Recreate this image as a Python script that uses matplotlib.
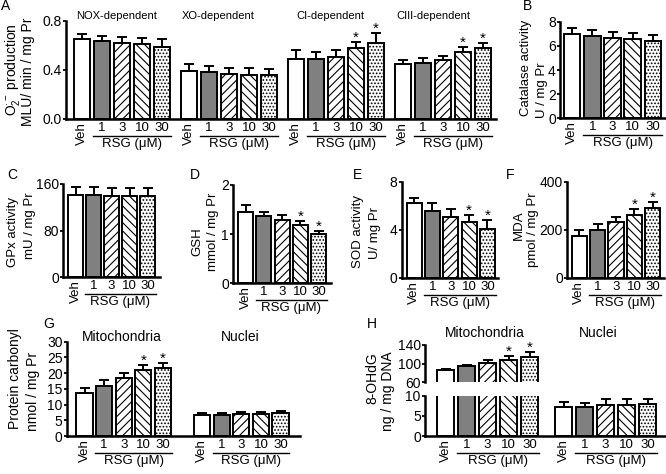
import matplotlib
matplotlib.use('Agg')
import matplotlib.pyplot as plt
import numpy as np
from matplotlib.transforms import offset_copy

plt.rcParams['font.family'] = ['Liberation Sans', 'DejaVu Sans']
plt.rcParams['mathtext.fontset'] = 'custom'
plt.rcParams['mathtext.rm'] = 'Liberation Sans'
plt.rcParams['mathtext.it'] = 'Liberation Sans:italic'
plt.rcParams['hatch.linewidth'] = 0.8

# ---- data ----
dose_labels = ['Veh', '1', '3', '10', '30']

# A: O2- production (MLU / min / mg Pr)
a_titles = ['NOX-dependent', 'XO-dependent', 'CI-dependent', 'CIII-dependent']
a_nox = [0.65, 0.64, 0.62, 0.61, 0.59]
a_nox_err = [0.045, 0.04, 0.05, 0.05, 0.06]
a_xo = [0.39, 0.38, 0.37, 0.36, 0.36]
a_xo_err = [0.06, 0.05, 0.05, 0.06, 0.05]
a_ci = [0.49, 0.49, 0.51, 0.58, 0.62]
a_ci_err = [0.07, 0.06, 0.05, 0.045, 0.08]
a_ciii = [0.45, 0.46, 0.48, 0.55, 0.58]
a_ciii_err = [0.03, 0.035, 0.035, 0.04, 0.04]
a_stars = [[0, 0, 0, 0, 0], [0, 0, 0, 0, 0], [0, 0, 0, 1, 1], [0, 0, 0, 1, 1]]

# B: catalase
b_vals = [6.95, 6.8, 6.67, 6.54, 6.42]
b_err = [0.55, 0.55, 0.5, 0.5, 0.48]
# C: GPx
c_vals = [141, 141, 140, 139, 139]
c_err = [13, 13, 13, 14, 14]
# D: GSH
d_vals = [1.46, 1.37, 1.29, 1.19, 1.0]
d_err = [0.13, 0.09, 0.09, 0.08, 0.06]
d_stars = [0, 0, 0, 1, 1]
# E: SOD
e_vals = [6.2, 5.56, 5.08, 4.6, 4.06]
e_err = [0.45, 0.7, 0.65, 0.65, 0.75]
e_stars = [0, 0, 0, 1, 1]
# F: MDA
f_vals = [174, 199, 233, 261, 292]
f_err = [25, 25, 21, 25, 25]
f_stars = [0, 0, 0, 1, 1]
# G: protein carbonyl
g_mito = [13.8, 15.9, 18.5, 21.0, 21.5]
g_mito_err = [1.4, 1.9, 1.6, 1.6, 1.8]
g_nuc = [6.8, 6.8, 7.1, 7.1, 7.4]
g_nuc_err = [0.6, 0.5, 0.4, 0.4, 0.5]
g_stars = [0, 0, 0, 1, 1]
# H: 8-OHdG
h_mito = [86, 94, 100.7, 107, 115]
h_mito_err = [3, 4, 8, 9, 11]
h_nuc = [7.3, 7.3, 7.7, 7.7, 7.9]
h_nuc_err = [1.1, 1.0, 1.6, 1.6, 1.3]
h_stars = [0, 0, 0, 1, 1]

# ---- styling ----
FILLS = ['white', '#808080', 'white', 'white', 'white']
HATCHES = [None, None, '////', '\\\\\\\\', '.....']
W, H = 666, 474
fig = plt.figure(figsize=(W / 100, H / 100), dpi=100)


def px_axes(x0, x1, ytop, ybot):
    ax = fig.add_axes([x0 / W, 1 - ybot / H, (x1 - x0) / W, (ybot - ytop) / H])
    for s in ['top', 'right']:
        ax.spines[s].set_visible(False)
    for s in ['left', 'bottom']:
        ax.spines[s].set_linewidth(1.8)
    ax.tick_params(axis='y', length=2.5, width=1.3, labelsize=10, pad=0.5)
    ax.set_xticks([])
    return ax


def set_xlim(ax, pitch, offset, width_px):
    left = -0.5 - offset / pitch
    ax.set_xlim(left, left + width_px / pitch)


def draw_bars(ax, xs, vals, errs):
    for x, v, fc, h in zip(xs, vals, FILLS, HATCHES):
        ax.bar(x, v, width=0.82, color=fc, edgecolor='k', hatch=h, linewidth=1.4, zorder=2)
    ax.errorbar(xs, vals, yerr=[np.zeros(len(vals)), errs], fmt='none', ecolor='k',
                elinewidth=1.4, capsize=3.5, capthick=1.4, zorder=3)


def draw_stars(ax, xs, vals, errs, stars):
    for x, v, e, s in zip(xs, vals, errs, stars):
        if s:
            ax.annotate('*', xy=(x, v + e), xytext=(0, -2), textcoords='offset points',
                        ha='center', va='bottom', fontsize=11)


def draw_xlabels(ax, xs):
    base = ax.get_xaxis_transform()
    t_num = offset_copy(base, fig=fig, y=-3, units='dots')
    for x, lab in zip(xs, dose_labels):
        if lab == 'Veh':
            ax.text(x, 0, lab, transform=t_num, rotation=90, ha='center', va='top', fontsize=9.5)
        else:
            ax.text(x, 0, lab, transform=t_num, ha='center', va='top', fontsize=9.5)
    t_line = offset_copy(base, fig=fig, y=-17, units='dots')
    ax.plot([xs[1] - 0.45, xs[4] + 0.45], [0, 0], transform=t_line, color='k', lw=1.0, clip_on=False)
    t_rsg = offset_copy(base, fig=fig, y=-19, units='dots')
    ax.text((xs[1] + xs[4]) / 2, 0, 'RSG (\u03bcM)', transform=t_rsg, ha='center', va='top', fontsize=9.5)


def ftext(x, y, s, **kw):
    fig.text(x / W, 1 - y / H, s, ha='center', va='center', **kw)


idx = np.arange(5)

# ---- A ----
ax = px_axes(66, 496, 21, 119)
set_xlim(ax, 20, 6, 430)
a_vals = [a_nox, a_xo, a_ci, a_ciii]
a_errs = [a_nox_err, a_xo_err, a_ci_err, a_ciii_err]
for g in range(4):
    xs = g * 5.35 + idx
    draw_bars(ax, xs, a_vals[g], a_errs[g])
    draw_stars(ax, xs, a_vals[g], a_errs[g], a_stars[g])
    draw_xlabels(ax, xs)
ax.set_ylim(0, 0.8)
ax.set_yticks([0, 0.4, 0.8])
ax.set_yticklabels(['0.0', '0.4', '0.8'])
for x, t in zip([117, 218, 330, 433], a_titles):
    ftext(x, 16, t, fontsize=8)
ftext(13, 70, r'O$_2^{\cdot-}$ production', rotation=90, fontsize=10)
ftext(28, 72, 'MLU/ min / mg Pr', rotation=90, fontsize=10)
ftext(6, 6, 'A', fontsize=10)


def single_panel(box, pitch, offset, vals, errs, stars, ylim, yticks, lab1, lab2, l1xy, l2xy, letter, lxy):
    ax = px_axes(*box)
    set_xlim(ax, pitch, offset, box[1] - box[0])
    draw_bars(ax, idx, vals, errs)
    if stars is not None:
        draw_stars(ax, idx, vals, errs, stars)
    draw_xlabels(ax, idx)
    ax.set_ylim(*ylim)
    ax.set_yticks(yticks)
    ftext(*l1xy, lab1, rotation=90, fontsize=9.5)
    ftext(*l2xy, lab2, rotation=90, fontsize=9.5)
    ftext(*lxy, letter, fontsize=10)
    return ax


single_panel((560, 665, 21.7, 118.3), 20.2, 2, b_vals, b_err, None, (0, 8), [0, 2, 4, 6, 8],
             'Catalase activity', 'U / mg Pr', (526, 68), (542, 90), 'B', (527, 6))
single_panel((63, 160, 184, 277.3), 18, 3.5, c_vals, c_err, None, (0, 160), [0, 80, 160],
             'GPx activity', 'mU / mg Pr', (13, 232), (30, 226), 'C', (12, 175))
single_panel((233, 331, 185, 283.3), 18.3, 3.4, d_vals, d_err, d_stars, (0, 2), [0, 1, 2],
             'GSH', 'mmol / mg Pr', (197, 242), (213, 232), 'D', (195, 175))
single_panel((401.7, 498, 181.7, 277.7), 18.3, 3.3, e_vals, e_err, e_stars, (0, 8), [0, 4, 8],
             'SOD activity', 'U/ mg Pr', (358, 231), (375, 233), 'E', (358, 175))
single_panel((567, 664, 181.7, 277.7), 18.4, 3, f_vals, f_err, f_stars, (0, 400), [0, 200, 400],
             'MDA', 'pmol / mg Pr', (519, 225), (533, 230), 'F', (510, 175))

# ---- G ----
ax = px_axes(66.7, 300, 341.7, 436)
set_xlim(ax, 19.6, 8, 300 - 66.7)
xs_m = idx
xs_n = 6.0 + idx
draw_bars(ax, xs_m, g_mito, g_mito_err)
draw_stars(ax, xs_m, g_mito, g_mito_err, g_stars)
draw_bars(ax, xs_n, g_nuc, g_nuc_err)
draw_xlabels(ax, xs_m)
draw_xlabels(ax, xs_n)
ax.set_ylim(0, 30)
ax.set_yticks([0, 5, 10, 15, 20, 25, 30])
ftext(122, 337, 'Mitochondria', fontsize=10)
ftext(240, 337, 'Nuclei', fontsize=10)
ftext(15, 379, 'Protein carbonyl', rotation=90, fontsize=10)
ftext(33, 391, 'nmol / mg Pr', rotation=90, fontsize=10)
ftext(49, 324, 'G', fontsize=10)

# ---- H (broken axis) ----
xs_m = idx
xs_n = 5.62 + idx
ax_top = px_axes(425, 666, 345, 382.3)
ax_bot = px_axes(425, 666, 395.7, 436)
for a in (ax_top, ax_bot):
    set_xlim(a, 21, 10, 241)
    draw_bars(a, xs_m, h_mito, h_mito_err)
    draw_bars(a, xs_n, h_nuc, h_nuc_err)
ax_top.spines['bottom'].set_visible(False)
ax_top.set_ylim(60, 140)
ax_top.set_yticks([60, 100, 140])
draw_stars(ax_top, xs_m, h_mito, h_mito_err, h_stars)
ax_bot.set_ylim(0, 10)
ax_bot.set_yticks([0, 5, 10])
draw_xlabels(ax_bot, xs_m)
draw_xlabels(ax_bot, xs_n)
ftext(485, 333, 'Mitochondria', fontsize=10)
ftext(598, 333, 'Nuclei', fontsize=10)
ftext(372, 378, '8-OHdG', rotation=90, fontsize=10)
ftext(388, 391, 'ng / mg DNA', rotation=90, fontsize=10)
ftext(372, 324, 'H', fontsize=10)

fig.savefig('out.png', dpi=100)
